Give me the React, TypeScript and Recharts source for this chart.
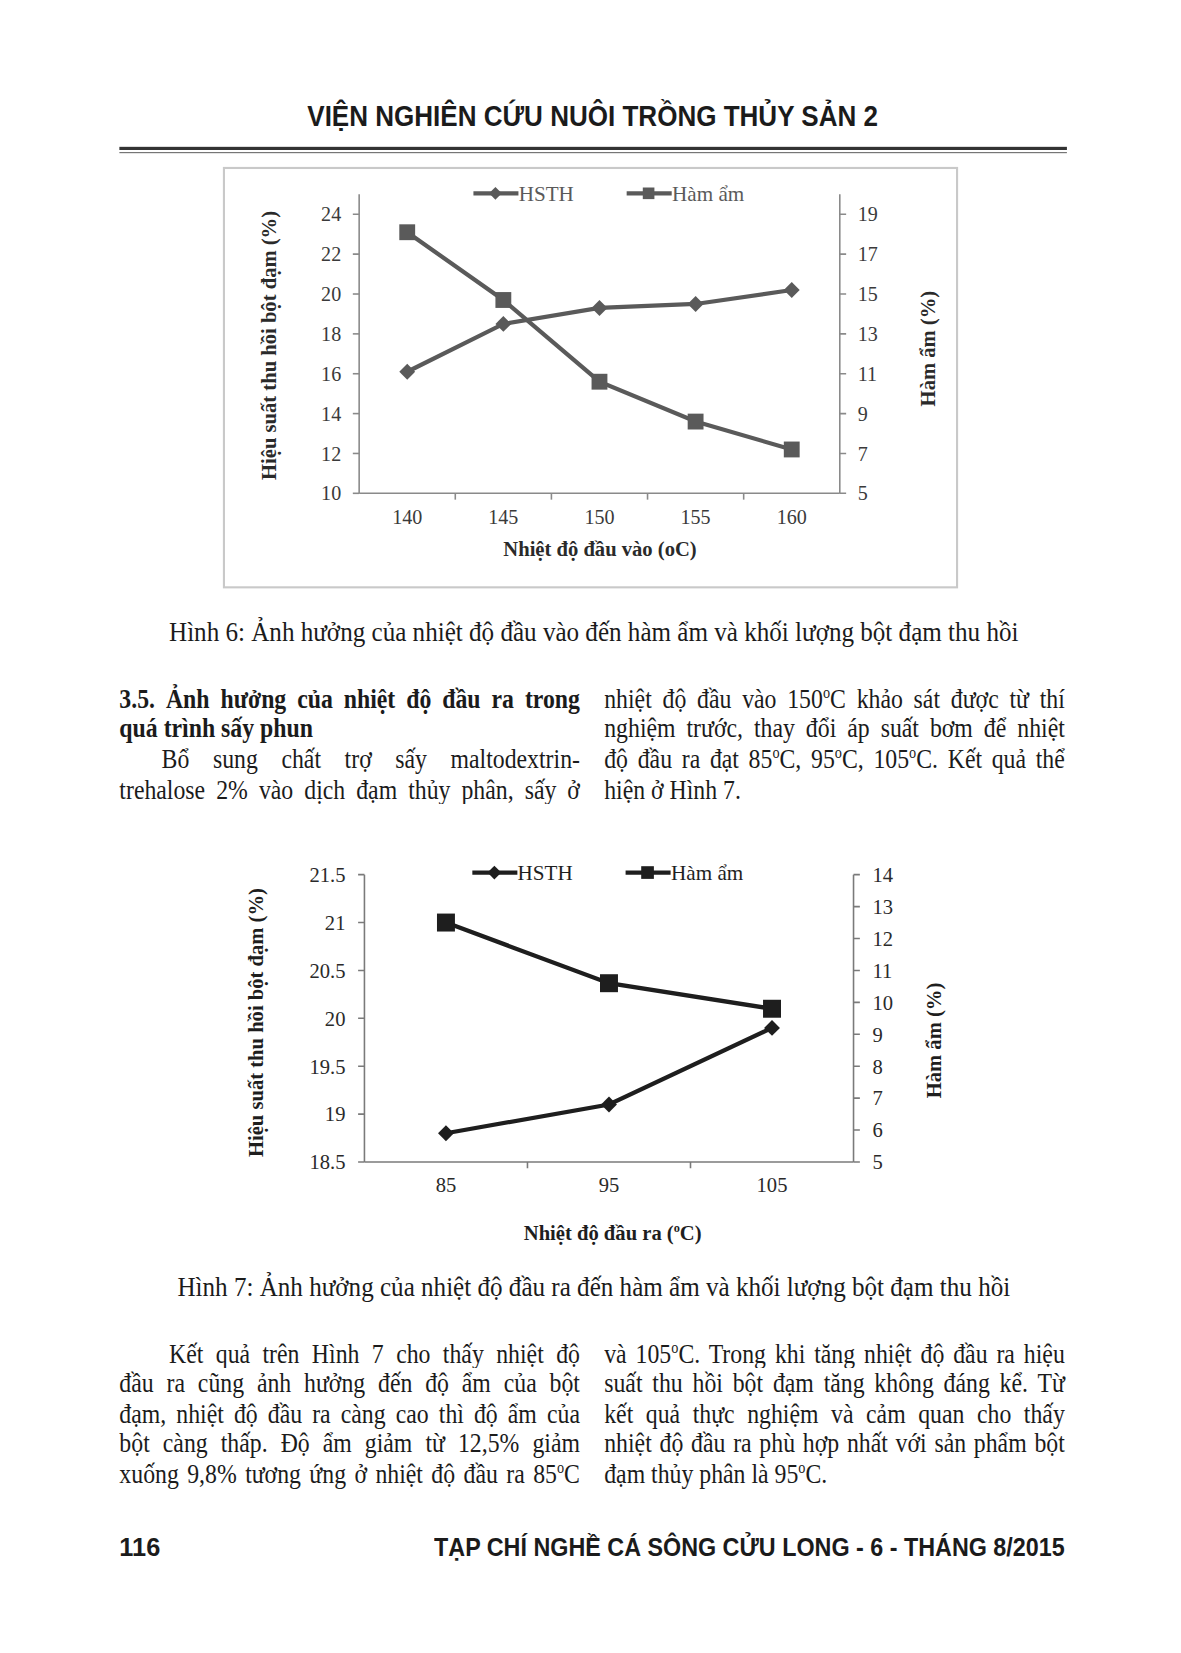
import React from 'react'
import { LineChart, Line, XAxis, YAxis } from 'recharts'

// Hình 6: inlet temperature
const inletTemps = ['140', '145', '150', '155', '160']
const inletHsth = [16.1, 18.5, 19.3, 19.5, 20.2]
const inletMoisture = [18.1, 14.7, 10.6, 8.6, 7.2]
const inletLeftTicks = [10, 12, 14, 16, 18, 20, 22, 24]
const inletRightTicks = [5, 7, 9, 11, 13, 15, 17, 19]

// Hình 7: outlet temperature
const outletTemps = ['85', '95', '105']
const outletHsth = [18.8, 19.1, 19.9]
const outletMoisture = [12.5, 10.6, 9.8]
const outletLeftTicks = [18.5, 19, 19.5, 20, 20.5, 21, 21.5]
const outletRightTicks = [5, 6, 7, 8, 9, 10, 11, 12, 13, 14]

const SERIF = '"Liberation Serif", "Times New Roman", serif'
const SANS = '"Liberation Sans", Arial, sans-serif'

// page is laid out on a 1118px-wide sheet, then scaled up to the window
const PAGE_W = 1118
const PAGE_H = 1565
const PAGE_SCALE = 1181 / PAGE_W

const inletData = inletTemps.map((t, i) => ({ temp: t, hsth: inletHsth[i], moisture: inletMoisture[i] }))
const outletData = outletTemps.map((t, i) => ({ temp: t, hsth: outletHsth[i], moisture: outletMoisture[i] }))

function Diamond({ cx, cy, r, fill }: any) {
  if (cx == null || cy == null) return null
  return <path d={`M${cx},${cy - r}L${cx + r},${cy}L${cx},${cy + r}L${cx - r},${cy}Z`} fill={fill} />
}

function Square({ cx, cy, s, fill }: any) {
  if (cx == null || cy == null) return null
  return <rect x={cx - s / 2} y={cy - s / 2} width={s} height={s} fill={fill} />
}

// category label plus a small tick on the boundary to the next category
function CatTick(props: any) {
  const { x, y, payload, index, count, color, axisColor, margin, fontSize, half } = props
  const off = payload && payload.offset ? payload.offset : half
  const top = y - margin
  return (
    <g>
      {index < count - 1 && (
        <line x1={x + off} x2={x + off} y1={top} y2={top + 6} stroke={axisColor} strokeWidth={1.5} />
      )}
      <text x={x} y={y} dy="0.71em" textAnchor="middle" fill={color} fontSize={fontSize} fontFamily={SERIF}>
        {payload.value}
      </text>
    </g>
  )
}

function Sup({ text }: { text: string }) {
  const parts = text.split('^o')
  return (
    <>
      {parts.map((p, i) => (
        <React.Fragment key={i}>
          {i > 0 && <sup style={{ fontSize: '0.6em', lineHeight: 0 }}>o</sup>}
          {p}
        </React.Fragment>
      ))}
    </>
  )
}

function TextRow({ x, y, w, text, bold, justify, scale = 0.9 }: any) {
  return (
    <div
      style={{
        position: 'absolute',
        left: x,
        top: y - 15,
        width: w / scale,
        height: 30,
        lineHeight: '30px',
        fontSize: 25,
        fontFamily: SERIF,
        fontWeight: bold ? 700 : 400,
        textAlign: justify ? 'justify' : 'left',
        textAlignLast: justify ? 'justify' : 'left',
        transform: `scaleX(${scale})`,
        transformOrigin: '0 0',
        color: '#1b1b1b',
      }}
    >
      <Sup text={text} />
    </div>
  )
}

function AxisTitle({ x, y, text, rotate, size, color }: any) {
  return (
    <div
      style={{
        position: 'absolute',
        left: x,
        top: y,
        transform: `translate(-50%, -50%)${rotate ? ' rotate(-90deg)' : ''}`,
        whiteSpace: 'nowrap',
        fontFamily: SERIF,
        fontWeight: 700,
        fontSize: size,
        color,
      }}
    >
      <Sup text={text} />
    </div>
  )
}

function LegendBox({ x, y, color, dr, sq }: any) {
  const item = (label: string, kind: string) => (
    <div style={{ display: 'flex', alignItems: 'center', marginRight: kind === 'd' ? 50 : 0 }}>
      <svg width={43} height={20}>
        <line x1={0} x2={43} y1={10} y2={10} stroke={color} strokeWidth={4} />
        {kind === 'd' ? <Diamond cx={21} cy={10} r={dr} fill={color} /> : <Square cx={21} cy={10} s={sq} fill={color} />}
      </svg>
      <span style={{ fontFamily: SERIF, fontSize: 20, color, whiteSpace: 'nowrap' }}>{label}</span>
    </div>
  )
  return (
    <div style={{ position: 'absolute', left: x, top: y - 12, height: 24, display: 'flex', alignItems: 'center' }}>
      {item('HSTH', 'd')}
      {item('Hàm ẩm', 's')}
    </div>
  )
}

function InletChart() {
  const color = '#5a5a5a'
  const axis = '#8a8a8a'
  const tickStyle = { fontSize: 19, fontFamily: SERIF, fill: '#3a3a3a' }
  return (
    <LineChart width={696} height={399} data={inletData} margin={{ top: 26, right: 0, bottom: 0, left: 0 }}>
      <XAxis
        dataKey="temp"
        scale="band"
        height={90}
        stroke={axis}
        strokeWidth={1.5}
        tickLine={false}
        tickSize={0}
        tickMargin={16}
        interval={0}
        tick={(p: any) => (
          <CatTick {...p} count={inletTemps.length} color="#3a3a3a" axisColor={axis} margin={16} fontSize={19} half={45.5} />
        )}
      />
      <YAxis
        yAxisId="left"
        width={129}
        domain={[10, 25]}
        ticks={inletLeftTicks}
        interval={0}
        stroke={axis}
        strokeWidth={1.5}
        tickSize={6}
        tickMargin={11}
        tick={tickStyle}
      />
      <YAxis
        yAxisId="right"
        orientation="right"
        width={112}
        domain={[5, 20]}
        ticks={inletRightTicks}
        interval={0}
        stroke={axis}
        strokeWidth={1.5}
        tickSize={6}
        tickMargin={11}
        tick={tickStyle}
      />
      <Line
        yAxisId="left"
        dataKey="hsth"
        stroke={color}
        strokeWidth={4}
        isAnimationActive={false}
        activeDot={false}
        dot={(p: any) => <Diamond key={`hd-${p.index}`} cx={p.cx} cy={p.cy} r={7.5} fill={color} />}
      />
      <Line
        yAxisId="right"
        dataKey="moisture"
        stroke={color}
        strokeWidth={4}
        isAnimationActive={false}
        activeDot={false}
        dot={(p: any) => <Square key={`hm-${p.index}`} cx={p.cx} cy={p.cy} s={15} fill={color} />}
      />
    </LineChart>
  )
}

function OutletChart() {
  const color = '#1e1e1e'
  const axis = '#7a7a7a'
  const tickStyle = { fontSize: 19.5, fontFamily: SERIF, fill: '#2a2a2a' }
  return (
    <LineChart width={750} height={360} data={outletData} margin={{ top: 38, right: 0, bottom: 0, left: 0 }}>
      <XAxis
        dataKey="temp"
        scale="band"
        height={50}
        stroke={axis}
        strokeWidth={1.5}
        tickLine={false}
        tickSize={0}
        tickMargin={15}
        interval={0}
        tick={(p: any) => (
          <CatTick {...p} count={outletTemps.length} color="#2a2a2a" axisColor={axis} margin={15} fontSize={19.5} half={77} />
        )}
      />
      <YAxis
        yAxisId="left"
        width={145}
        domain={[18.5, 21.5]}
        ticks={outletLeftTicks}
        interval={0}
        stroke={axis}
        strokeWidth={1.5}
        tickSize={6}
        tickMargin={12}
        tick={tickStyle}
      />
      <YAxis
        yAxisId="right"
        orientation="right"
        width={142}
        domain={[5, 14]}
        ticks={outletRightTicks}
        interval={0}
        stroke={axis}
        strokeWidth={1.5}
        tickSize={6}
        tickMargin={12}
        tick={tickStyle}
      />
      <Line
        yAxisId="left"
        dataKey="hsth"
        stroke={color}
        strokeWidth={4}
        isAnimationActive={false}
        activeDot={false}
        dot={(p: any) => <Diamond key={`od-${p.index}`} cx={p.cx} cy={p.cy} r={7.5} fill={color} />}
      />
      <Line
        yAxisId="right"
        dataKey="moisture"
        stroke={color}
        strokeWidth={4}
        isAnimationActive={false}
        activeDot={false}
        dot={(p: any) => <Square key={`om-${p.index}`} cx={p.cx} cy={p.cy} s={17} fill={color} />}
      />
    </LineChart>
  )
}

const L = 113
const R = 572
const W = 436

export default function App() {
  return (
    <div
      style={{
        position: 'absolute',
        left: 0,
        top: 0,
        width: PAGE_W,
        height: PAGE_H,
        background: '#fff',
        overflow: 'hidden',
        transform: `scale(${PAGE_SCALE})`,
        transformOrigin: '0 0',
      }}
    >
      {/* header */}
      <div
        style={{
          position: 'absolute',
          left: 0,
          width: 1122,
          top: 94,
          textAlign: 'center',
          fontFamily: SANS,
          fontWeight: 700,
          fontSize: 28,
          color: '#1b1b1b',
          transform: 'scaleX(0.88)',
          transformOrigin: '561px 0',
          whiteSpace: 'nowrap',
        }}
      >
        VIỆN NGHIÊN CỨU NUÔI TRỒNG THỦY SẢN 2
      </div>
      <div style={{ position: 'absolute', left: 113, width: 897, top: 139, height: 3, background: '#333' }} />
      <div style={{ position: 'absolute', left: 113, width: 897, top: 144, height: 1, background: '#666' }} />

      {/* Hình 6 */}
      <div style={{ position: 'absolute', left: 211, top: 158, width: 696, height: 399, boxSizing: 'border-box', border: '2px solid #c9c9c9' }} />
      <div style={{ position: 'absolute', left: 211, top: 158 }}>
        <InletChart />
      </div>
      <LegendBox x={448} y={183} color="#5a5a5a" dr={6} sq={11} />
      <AxisTitle x={255} y={327} text="Hiệu suất thu hồi bột đạm (%)" rotate size={19.5} color="#2a2a2a" />
      <AxisTitle x={879} y={330} text="Hàm ẩm (%)" rotate size={19.5} color="#2a2a2a" />
      <AxisTitle x={568} y={520} text="Nhiệt độ đầu vào (oC)" size={19.5} color="#2a2a2a" />

      <TextRow x={160} y={599} w={900} scale={0.95} text="Hình 6: Ảnh hưởng của nhiệt độ đầu vào đến hàm ẩm và khối lượng bột đạm thu hồi" />

      <TextRow x={L} y={662} w={W} bold justify text="3.5. Ảnh hưởng của nhiệt độ đầu ra trong" />
      <TextRow x={L} y={690} w={W} bold text="quá trình sấy phun" />
      <TextRow x={153} y={719} w={549 - 153} justify text="Bổ sung chất trợ sấy maltodextrin-" />
      <TextRow x={L} y={748} w={W} justify text="trehalose 2% vào dịch đạm thủy phân, sấy ở" />
      <TextRow x={R} y={662} w={W} justify text="nhiệt độ đầu vào 150^oC khảo sát được từ thí" />
      <TextRow x={R} y={690} w={W} justify text="nghiệm trước, thay đổi áp suất bơm để nhiệt" />
      <TextRow x={R} y={719} w={W} justify text="độ đầu ra đạt 85^oC, 95^oC, 105^oC. Kết quả thể" />
      <TextRow x={R} y={748} w={W} text="hiện ở Hình 7." />

      {/* Hình 7 */}
      <div style={{ position: 'absolute', left: 200, top: 790 }}>
        <OutletChart />
      </div>
      <LegendBox x={447} y={826} color="#1e1e1e" dr={6.5} sq={12} />
      <AxisTitle x={243} y={968} text="Hiệu suất thu hồi bột đạm (%)" rotate size={19.5} color="#1e1e1e" />
      <AxisTitle x={885} y={985} text="Hàm ẩm (%)" rotate size={19.5} color="#1e1e1e" />
      <AxisTitle x={580} y={1168} text="Nhiệt độ đầu ra (^oC)" size={19.5} color="#1e1e1e" />

      <TextRow x={168} y={1219} w={900} scale={0.95} text="Hình 7: Ảnh hưởng của nhiệt độ đầu ra đến hàm ẩm và khối lượng bột đạm thu hồi" />

      <TextRow x={160} y={1282} w={549 - 160} justify text="Kết quả trên Hình 7 cho thấy nhiệt độ" />
      <TextRow x={L} y={1310} w={W} justify text="đầu ra cũng ảnh hưởng đến độ ẩm của bột" />
      <TextRow x={L} y={1339} w={W} justify text="đạm, nhiệt độ đầu ra càng cao thì độ ẩm của" />
      <TextRow x={L} y={1367} w={W} justify text="bột càng thấp. Độ ẩm giảm từ 12,5% giảm" />
      <TextRow x={L} y={1396} w={W} justify text="xuống 9,8% tương ứng ở nhiệt độ đầu ra 85^oC" />
      <TextRow x={R} y={1282} w={W} justify text="và 105^oC. Trong khi tăng nhiệt độ đầu ra hiệu" />
      <TextRow x={R} y={1310} w={W} justify text="suất thu hồi bột đạm tăng không đáng kể. Từ" />
      <TextRow x={R} y={1339} w={W} justify text="kết quả thực nghiệm và cảm quan cho thấy" />
      <TextRow x={R} y={1367} w={W} justify text="nhiệt độ đầu ra phù hợp nhất với sản phẩm bột" />
      <TextRow x={R} y={1396} w={W} text="đạm thủy phân là 95^oC." />

      {/* footer */}
      <div style={{ position: 'absolute', left: 113, top: 1451, fontFamily: SANS, fontWeight: 700, fontSize: 24, color: '#1b1b1b' }}>116</div>
      <div
        style={{
          position: 'absolute',
          right: PAGE_W - 1008,
          top: 1451,
          whiteSpace: 'nowrap',
          fontFamily: SANS,
          fontWeight: 700,
          fontSize: 24,
          color: '#1b1b1b',
          transform: 'scaleX(0.92)',
          transformOrigin: '100% 0',
        }}
      >
        TẠP CHÍ NGHỀ CÁ SÔNG CỬU LONG - 6 - THÁNG 8/2015
      </div>
    </div>
  )
}
